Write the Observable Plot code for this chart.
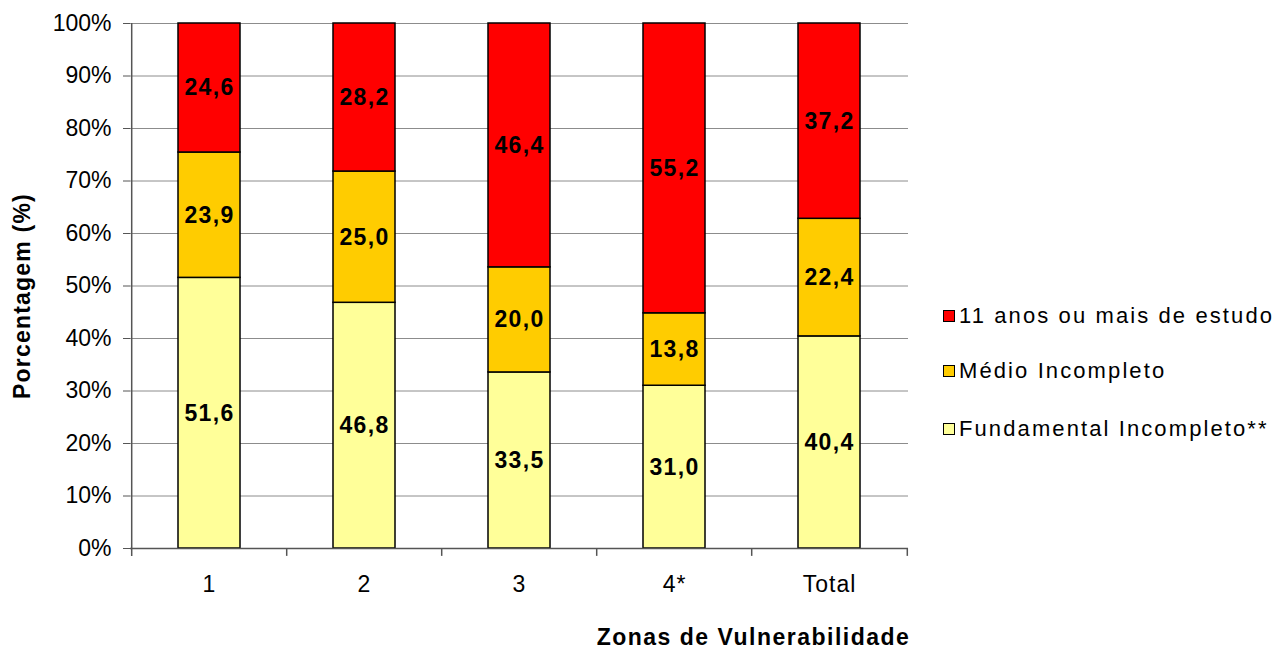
<!DOCTYPE html>
<html>
<head>
<meta charset="utf-8">
<script src="https://cdn.jsdelivr.net/npm/d3@7"></script>
<script src="https://cdn.jsdelivr.net/npm/@observablehq/plot@0.6"></script>
<style>
  html, body { margin: 0; padding: 0; background: #fff; overflow: hidden; width: 1274px; height: 651px; }
  #wrap { position: relative; width: 1274px; height: 651px; font-family: "Liberation Sans", Arial, sans-serif; overflow: hidden; }
  #legend { position: absolute; left: 943px; top: 300px; white-space: nowrap; font-size: 22px; letter-spacing: 2.1px; color: #000; }
  .item { position: absolute; left: 0; display: flex; align-items: center; line-height: 26px; }
  .sw { width: 10px; height: 10px; border: 1.5px solid #000; margin-right: 4px; }
</style>
</head>
<body>
<div id="wrap"></div>
<script>
const categories = ["1", "2", "3", "4*", "Total"];
const seriesNames = ["Fundamental Incompleto**", "Médio Incompleto", "11 anos ou mais de estudo"];
const fundamental = [51.6, 46.8, 33.5, 31.0, 40.4];
const medio = [23.9, 25.0, 20.0, 13.8, 22.4];
const onzeAnos = [24.6, 28.2, 46.4, 55.2, 37.2];
const seriesColors = ["#FFFF99", "#FFCC00", "#FF0000"];
const yTicks = [0, 0.1, 0.2, 0.3, 0.4, 0.5, 0.6, 0.7, 0.8, 0.9, 1];
const yTitle = "Porcentagem (%)";
const xTitle = "Zonas de Vulnerabilidade";

const seriesValues = [fundamental, medio, onzeAnos];
const data = [];
seriesNames.forEach((s, si) => {
  categories.forEach((c, ci) => {
    data.push({ cat: c, series: s, value: seriesValues[si][ci] });
  });
});

const W = 1274, H = 651;
const mL = 130, mR = 366, mT = 23, mB = 103;
const step = (W - mL - mR) / categories.length;
const font = "Liberation Sans, Arial, sans-serif";
const fmt = v => d3.format(".1f")(v).replace(".", ",");

const stackOpts = { x: "cat", y: "value", z: "series", offset: "normalize", order: seriesNames };

const chart = Plot.plot({
  width: W, height: H,
  marginLeft: mL, marginRight: mR, marginTop: mT, marginBottom: mB,
  style: { fontFamily: font, background: "white", overflow: "visible" },
  x: { domain: categories, paddingInner: 0.6, paddingOuter: 0.3, align: 0.5 },
  y: { domain: [0, 1] },
  color: { domain: seriesNames, range: seriesColors },
  marks: [
    Plot.ruleY(yTicks.filter(d => d > 0), { stroke: "#8c8c8c", strokeWidth: 1 }),
    Plot.barY(data, Plot.stackY({ ...stackOpts, fill: "series", stroke: "#000", strokeWidth: 1.5 })),
    Plot.text(data, Plot.stackY({ ...stackOpts, text: d => fmt(d.value), fontSize: 23, fontWeight: "bold", fill: "#000" })),
    Plot.axisY({ ticks: yTicks, tickFormat: d3.format(".0%"), tickSize: 7, tickPadding: 12, fontSize: 23, color: "#000", stroke: "#555", label: null }),
    Plot.ruleY([0], { stroke: "#555", strokeWidth: 1.5 }),
    Plot.ruleX(categories.slice(0, 1), { x: d => d, y1: -0.015, y2: 1, dx: -step / 2, stroke: "#555", strokeWidth: 1.5 }),
    Plot.ruleX(categories.slice(1), { x: d => d, y1: 0, y2: -0.015, dx: -step / 2, stroke: "#555", strokeWidth: 1.5 }),
    Plot.ruleX(categories.slice(-1), { x: d => d, y1: 0, y2: -0.015, dx: step / 2, stroke: "#555", strokeWidth: 1.5 }),
    Plot.axisX({ tickSize: 0, tickPadding: 27, fontSize: 23, color: "#000", label: null }),
    Plot.text([yTitle], { frameAnchor: "left", textAnchor: "middle", lineAnchor: "middle", dx: -108, dy: 10, rotate: -90, fontSize: 23, fontWeight: "bold", fill: "#000" }),
    Plot.text([xTitle], { frameAnchor: "bottom", textAnchor: "middle", lineAnchor: "middle", dx: 234, dy: 89, fontSize: 23, fontWeight: "bold", fill: "#000" })
  ]
});

// Excel-like wider glyph spacing
d3.select(chart).selectAll("text").each(function () {
  const t = this.textContent;
  let ls = null;
  if (t === xTitle) ls = "1.5px";
  else if (t === yTitle) ls = "1.2px";
  else if (/^\d+,\d$/.test(t)) ls = "1.3px";
  else if (categories.includes(t)) ls = "1px";
  if (ls) this.style.letterSpacing = ls;
});

const wrap = document.getElementById("wrap");
wrap.appendChild(chart);

const legend = document.createElement("div");
legend.id = "legend";
const legendOrder = [2, 1, 0];
const legendTops = [3, 58, 116];
legendOrder.forEach((si, i) => {
  const it = document.createElement("div");
  it.className = "item";
  it.style.top = legendTops[i] + "px";
  const sw = document.createElement("span");
  sw.className = "sw";
  sw.style.background = seriesColors[si];
  const tx = document.createElement("span");
  tx.textContent = seriesNames[si];
  it.appendChild(sw);
  it.appendChild(tx);
  legend.appendChild(it);
});
wrap.appendChild(legend);
</script>
</body>
</html>
